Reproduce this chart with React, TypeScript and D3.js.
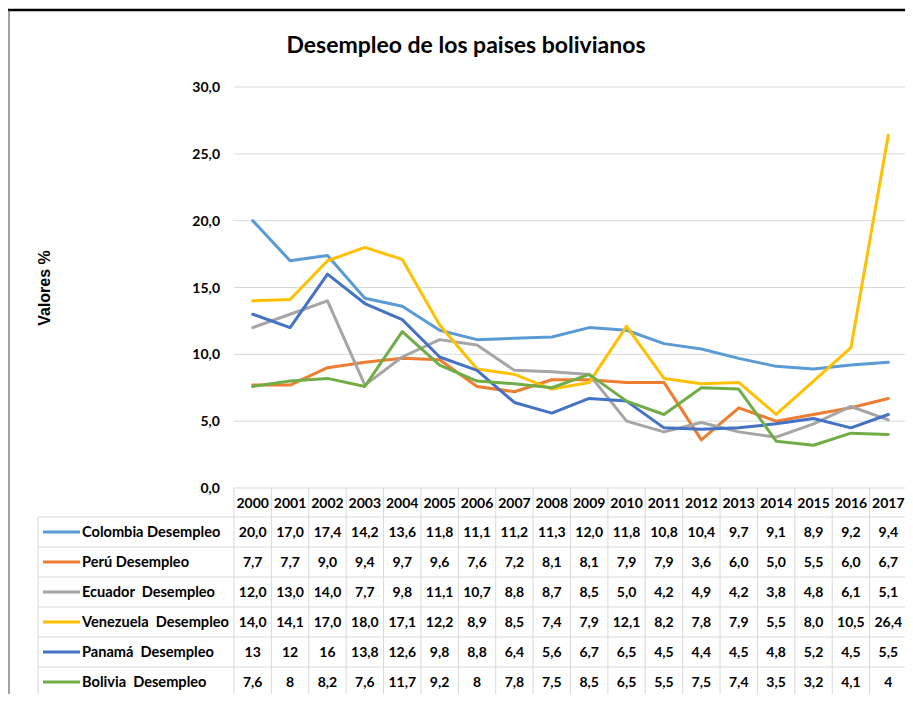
import React from 'react'
import * as d3 from 'd3'

const years = ['2000','2001','2002','2003','2004','2005','2006','2007','2008','2009','2010','2011','2012','2013','2014','2015','2016','2017']

const seriesNames = ['Colombia Desempleo', 'Perú Desempleo', 'Ecuador  Desempleo', 'Venezuela  Desempleo', 'Panamá  Desempleo', 'Bolivia  Desempleo']
const seriesColors = ['#5b9bd5', '#ed7d31', '#a5a5a5', '#ffc000', '#4472c4', '#70ad47']

// values as printed in the table
const colombia = ['20,0','17,0','17,4','14,2','13,6','11,8','11,1','11,2','11,3','12,0','11,8','10,8','10,4','9,7','9,1','8,9','9,2','9,4']
const peru = ['7,7','7,7','9,0','9,4','9,7','9,6','7,6','7,2','8,1','8,1','7,9','7,9','3,6','6,0','5,0','5,5','6,0','6,7']
const ecuador = ['12,0','13,0','14,0','7,7','9,8','11,1','10,7','8,8','8,7','8,5','5,0','4,2','4,9','4,2','3,8','4,8','6,1','5,1']
const venezuela = ['14,0','14,1','17,0','18,0','17,1','12,2','8,9','8,5','7,4','7,9','12,1','8,2','7,8','7,9','5,5','8,0','10,5','26,4']
const panama = ['13','12','16','13,8','12,6','9,8','8,8','6,4','5,6','6,7','6,5','4,5','4,4','4,5','4,8','5,2','4,5','5,5']
const bolivia = ['7,6','8','8,2','7,6','11,7','9,2','8','7,8','7,5','8,5','6,5','5,5','7,5','7,4','3,5','3,2','4,1','4']

const yTicks = [0, 5, 10, 15, 20, 25, 30]

const W = 913
const H = 702
const font = 'Lato, "Open Sans", sans-serif'

const tableLeft = 38
const plotLeft = 234
const plotRight = 907
const plotTop = 87
const plotBottom = 488
const headerH = 29
const rowH = 30

export default function App() {
  const series = [colombia, peru, ecuador, venezuela, panama, bolivia]
  const num = (s: string) => +s.replace(',', '.')

  const x = d3.scaleBand<string>().domain(years).range([plotLeft, plotRight])
  const y = d3.scaleLinear().domain([0, 30]).range([plotBottom, plotTop])
  const fmt = (v: number) => d3.format('.1f')(v).replace('.', ',')

  const line = d3.line<string>()
    .x((_, i) => (x(years[i]) as number) + x.bandwidth() / 2)
    .y(d => y(num(d)))

  const tableBottom = plotBottom + headerH + rowH * series.length

  return (
    <div style={{ margin: -8, width: W, height: H, overflow: 'hidden' }}>
      <svg width={W} height={H} style={{ display: 'block', background: '#fff' }}>
        {/* outer frame */}
        <line x1={5} x2={W} y1={10} y2={10} stroke="#000" strokeWidth={2.5} />
        <line x1={9} x2={9} y1={10} y2={H} stroke="#444" strokeWidth={1} />

        <text x={466} y={53} textAnchor="middle" fontFamily={font} fontWeight={700} fontSize={23} fill="#000">
          Desempleo de los paises bolivianos
        </text>

        <text transform="translate(50,288) rotate(-90)" textAnchor="middle" fontFamily="'Liberation Sans', Arial, sans-serif" fontWeight={700} fontSize={16} fill="#000">
          Valores %
        </text>

        {/* grid + y ticks */}
        {yTicks.map(t => (
          <g key={t}>
            {t > 0 && <line x1={plotLeft} x2={plotRight} y1={y(t)} y2={y(t)} stroke="#d9d9d9" strokeWidth={1} />}
            <text x={220} y={y(t) + 5} textAnchor="end" fontFamily={font} fontWeight={700} fontSize={14} fill="#000">{fmt(t)}</text>
          </g>
        ))}

        {/* lines */}
        {series.map((s, i) => (
          <path key={i} d={line(s) || ''} fill="none" stroke={seriesColors[i]} strokeWidth={3} strokeLinejoin="round" strokeLinecap="round" />
        ))}

        {/* data table */}
        <g fontFamily={font} fontWeight={700} fontSize={14} fill="#000">
          <line x1={plotLeft} x2={plotRight} y1={plotBottom} y2={plotBottom} stroke="#d9d9d9" />
          {years.map(yr => (
            <text key={yr} x={(x(yr) as number) + x.bandwidth() / 2} y={plotBottom + 20} textAnchor="middle">{yr}</text>
          ))}
          {[...years.map(yr => x(yr) as number), plotRight].map((xv, i) => (
            <line key={'v' + i} x1={xv} x2={xv} y1={plotBottom} y2={tableBottom} stroke="#d9d9d9" />
          ))}
          <line x1={tableLeft} x2={tableLeft} y1={plotBottom + headerH} y2={tableBottom} stroke="#d9d9d9" />
          {series.map((s, i) => {
            const top = plotBottom + headerH + rowH * i
            const mid = top + rowH / 2
            return (
              <g key={i}>
                <line x1={tableLeft} x2={plotRight} y1={top} y2={top} stroke="#d9d9d9" />
                <line x1={43} x2={80} y1={mid} y2={mid} stroke={seriesColors[i]} strokeWidth={3} />
                <text x={82} y={mid + 5} fontSize={14.6} style={{ whiteSpace: 'pre' }}>{seriesNames[i]}</text>
                {s.map((v, j) => (
                  <text key={j} x={(x(years[j]) as number) + x.bandwidth() / 2} y={mid + 5} textAnchor="middle">{v}</text>
                ))}
              </g>
            )
          })}
          <line x1={tableLeft} x2={plotRight} y1={tableBottom} y2={tableBottom} stroke="#d9d9d9" />
        </g>
      </svg>
    </div>
  )
}
